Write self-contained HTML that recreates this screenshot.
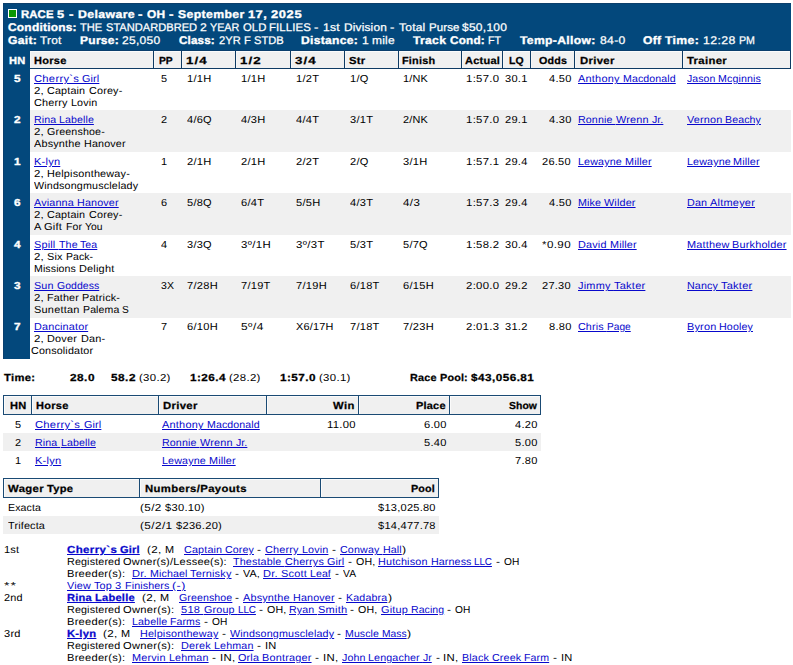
<!DOCTYPE html>
<html><head><meta charset="utf-8"><title>Race 5</title>
<style>
html,body{margin:0;padding:0;background:#fff;}
body{width:793px;height:665px;position:relative;overflow:hidden;font-family:"Liberation Sans",sans-serif;text-rendering:geometricPrecision;}
.b{position:absolute;}
.t{position:absolute;white-space:pre;line-height:12px;height:12px;transform-origin:0 50%;}
.c0{font-size:11.1px;color:#fff;font-weight:bold;-webkit-text-stroke:0.35px #fff;}
.c1{font-size:11.1px;color:#fff;-webkit-text-stroke:0.25px #fff;}
.c2{font-size:10.2px;color:#fff;font-weight:bold;-webkit-text-stroke:0.35px #fff;}
.c3{font-size:10.2px;color:#000;font-weight:bold;-webkit-text-stroke:0.25px #000;}
.c4{font-size:10.2px;color:#0808cc;text-decoration:underline;}
.c5{font-size:10.2px;color:#000;}
.c6{font-size:10.2px;color:#0808cc;font-weight:bold;text-decoration:underline;-webkit-text-stroke:0.25px #0808cc;}
</style></head><body>
<div class="b" style="left:3px;top:3px;width:788px;height:48px;background:#03487c"></div>
<div class="b" style="left:3px;top:51px;width:27px;height:308px;background:#03487c"></div>
<div class="b" style="left:30px;top:51px;width:761px;height:18px;background:#0e3a63"></div>
<div class="b" style="left:30px;top:50px;width:761px;height:1px;background:#0a3e6c"></div>
<div class="b" style="left:3px;top:3px;width:788px;height:1px;background:#0b3f6b"></div>
<div class="b" style="left:3px;top:3px;width:1px;height:356px;background:#0a4070"></div>
<div class="b" style="left:8px;top:9px;width:9px;height:9px;background:#fff"></div>
<div class="b" style="left:9px;top:10px;width:7px;height:7px;background:#0b9803"></div>
<div class="b" style="left:30px;top:51px;width:123px;height:17px;background:#fbfbfb"></div>
<div class="b" style="left:31px;top:52px;width:122px;height:16px;background:#f0f0f0"></div>
<div class="b" style="left:30px;top:52px;width:1px;height:16px;background:#f6f6f6"></div>
<div class="b" style="left:154px;top:51px;width:27px;height:17px;background:#fbfbfb"></div>
<div class="b" style="left:155px;top:52px;width:26px;height:16px;background:#f0f0f0"></div>
<div class="b" style="left:154px;top:52px;width:1px;height:16px;background:#f6f6f6"></div>
<div class="b" style="left:182px;top:51px;width:53px;height:17px;background:#fbfbfb"></div>
<div class="b" style="left:183px;top:52px;width:52px;height:16px;background:#f0f0f0"></div>
<div class="b" style="left:182px;top:52px;width:1px;height:16px;background:#f6f6f6"></div>
<div class="b" style="left:236px;top:51px;width:54px;height:17px;background:#fbfbfb"></div>
<div class="b" style="left:237px;top:52px;width:53px;height:16px;background:#f0f0f0"></div>
<div class="b" style="left:236px;top:52px;width:1px;height:16px;background:#f6f6f6"></div>
<div class="b" style="left:291px;top:51px;width:53px;height:17px;background:#fbfbfb"></div>
<div class="b" style="left:292px;top:52px;width:52px;height:16px;background:#f0f0f0"></div>
<div class="b" style="left:291px;top:52px;width:1px;height:16px;background:#f6f6f6"></div>
<div class="b" style="left:345px;top:51px;width:53px;height:17px;background:#fbfbfb"></div>
<div class="b" style="left:346px;top:52px;width:52px;height:16px;background:#f0f0f0"></div>
<div class="b" style="left:345px;top:52px;width:1px;height:16px;background:#f6f6f6"></div>
<div class="b" style="left:399px;top:51px;width:62px;height:17px;background:#fbfbfb"></div>
<div class="b" style="left:400px;top:52px;width:61px;height:16px;background:#f0f0f0"></div>
<div class="b" style="left:399px;top:52px;width:1px;height:16px;background:#f6f6f6"></div>
<div class="b" style="left:462px;top:51px;width:40px;height:17px;background:#fbfbfb"></div>
<div class="b" style="left:463px;top:52px;width:39px;height:16px;background:#f0f0f0"></div>
<div class="b" style="left:462px;top:52px;width:1px;height:16px;background:#f6f6f6"></div>
<div class="b" style="left:503px;top:51px;width:27px;height:17px;background:#fbfbfb"></div>
<div class="b" style="left:504px;top:52px;width:26px;height:16px;background:#f0f0f0"></div>
<div class="b" style="left:503px;top:52px;width:1px;height:16px;background:#f6f6f6"></div>
<div class="b" style="left:531px;top:51px;width:43px;height:17px;background:#fbfbfb"></div>
<div class="b" style="left:532px;top:52px;width:42px;height:16px;background:#f0f0f0"></div>
<div class="b" style="left:531px;top:52px;width:1px;height:16px;background:#f6f6f6"></div>
<div class="b" style="left:575px;top:51px;width:107px;height:17px;background:#fbfbfb"></div>
<div class="b" style="left:576px;top:52px;width:106px;height:16px;background:#f0f0f0"></div>
<div class="b" style="left:575px;top:52px;width:1px;height:16px;background:#f6f6f6"></div>
<div class="b" style="left:683px;top:51px;width:107px;height:17px;background:#fbfbfb"></div>
<div class="b" style="left:684px;top:52px;width:106px;height:16px;background:#f0f0f0"></div>
<div class="b" style="left:683px;top:52px;width:1px;height:16px;background:#f6f6f6"></div>
<div class="b" style="left:30px;top:69px;width:761px;height:41px;background:#fff"></div>
<div class="b" style="left:30px;top:110px;width:761px;height:42px;background:#f0f0f0"></div>
<div class="b" style="left:30px;top:152px;width:761px;height:41px;background:#fff"></div>
<div class="b" style="left:30px;top:193px;width:761px;height:42px;background:#f0f0f0"></div>
<div class="b" style="left:30px;top:235px;width:761px;height:41px;background:#fff"></div>
<div class="b" style="left:30px;top:276px;width:761px;height:42px;background:#f0f0f0"></div>
<div class="b" style="left:30px;top:318px;width:761px;height:41px;background:#fff"></div>
<div class="b" style="left:3px;top:395px;width:538px;height:20px;background:#1a4a74"></div>
<div class="b" style="left:4px;top:396px;width:27px;height:18px;background:#fbfbfb"></div>
<div class="b" style="left:5px;top:397px;width:26px;height:17px;background:#f0f0f0"></div>
<div class="b" style="left:32px;top:396px;width:126px;height:18px;background:#fbfbfb"></div>
<div class="b" style="left:33px;top:397px;width:125px;height:17px;background:#f0f0f0"></div>
<div class="b" style="left:159px;top:396px;width:107px;height:18px;background:#fbfbfb"></div>
<div class="b" style="left:160px;top:397px;width:106px;height:17px;background:#f0f0f0"></div>
<div class="b" style="left:267px;top:396px;width:91px;height:18px;background:#fbfbfb"></div>
<div class="b" style="left:268px;top:397px;width:90px;height:17px;background:#f0f0f0"></div>
<div class="b" style="left:359px;top:396px;width:90px;height:18px;background:#fbfbfb"></div>
<div class="b" style="left:360px;top:397px;width:89px;height:17px;background:#f0f0f0"></div>
<div class="b" style="left:450px;top:396px;width:90px;height:18px;background:#fbfbfb"></div>
<div class="b" style="left:451px;top:397px;width:89px;height:17px;background:#f0f0f0"></div>
<div class="b" style="left:3px;top:433px;width:538px;height:18px;background:#f0f0f0"></div>
<div class="b" style="left:3px;top:478px;width:436px;height:20px;background:#1a4a74"></div>
<div class="b" style="left:4px;top:479px;width:135px;height:18px;background:#fbfbfb"></div>
<div class="b" style="left:5px;top:480px;width:134px;height:17px;background:#f0f0f0"></div>
<div class="b" style="left:140px;top:479px;width:180px;height:18px;background:#fbfbfb"></div>
<div class="b" style="left:141px;top:480px;width:179px;height:17px;background:#f0f0f0"></div>
<div class="b" style="left:321px;top:479px;width:117px;height:18px;background:#fbfbfb"></div>
<div class="b" style="left:322px;top:480px;width:116px;height:17px;background:#f0f0f0"></div>
<div class="b" style="left:3px;top:516px;width:436px;height:18px;background:#f0f0f0"></div>
<span class="t c0" style="left:21.30px;top:9px;letter-spacing:0.095px;transform:scaleX(1.0254)">RACE </span>
<span class="t c0" style="left:57.18px;top:9px;letter-spacing:0.378px;transform:scaleX(1.1515)">5 </span>
<span class="t c0" style="left:68.61px;top:9px;letter-spacing:0.374px;transform:scaleX(1.2049)">- </span>
<span class="t c0" style="left:77.53px;top:9px;letter-spacing:0.337px;transform:scaleX(1.1089)">Delaware </span>
<span class="t c0" style="left:138.02px;top:9px;letter-spacing:0.374px;transform:scaleX(1.2049)">- </span>
<span class="t c0" style="left:146.93px;top:9px;letter-spacing:0.266px;transform:scaleX(1.0751)">OH </span>
<span class="t c0" style="left:168.95px;top:9px;letter-spacing:0.374px;transform:scaleX(1.2049)">- </span>
<span class="t c0" style="left:177.87px;top:9px;letter-spacing:0.336px;transform:scaleX(1.1032)">September </span>
<span class="t c0" style="left:247.89px;top:9px;letter-spacing:0.397px;transform:scaleX(1.1594)">17, </span>
<span class="t c0" style="left:270.94px;top:9px;letter-spacing:0.540px;transform:scaleX(1.1625)">2025</span>
<span class="t c0" style="left:8.00px;top:22px;letter-spacing:0.223px;transform:scaleX(1.0740)">Conditions:</span>
<span class="t c1" style="left:80.30px;top:22px;letter-spacing:0.005px;transform:scaleX(1.0014)">THE </span>
<span class="t c1" style="left:105.63px;top:22px;letter-spacing:0.002px;transform:scaleX(1.0004)">STANDARDBRED </span>
<span class="t c1" style="left:199.80px;top:22px;letter-spacing:0.242px;transform:scaleX(1.0969)">2 </span>
<span class="t c1" style="left:210.45px;top:22px;letter-spacing:-0.084px;transform:scaleX(0.9764)">YEAR </span>
<span class="t c1" style="left:242.54px;top:22px;letter-spacing:0.059px;transform:scaleX(1.0170)">OLD </span>
<span class="t c1" style="left:269.12px;top:22px;letter-spacing:0.091px;transform:scaleX(1.0312)">FILLIES </span>
<span class="t c1" style="left:314.37px;top:22px;letter-spacing:0.333px;transform:scaleX(1.1825)">- </span>
<span class="t c1" style="left:323.06px;top:22px;letter-spacing:0.229px;transform:scaleX(1.0950)">1st </span>
<span class="t c1" style="left:343.56px;top:22px;letter-spacing:0.171px;transform:scaleX(1.0681)">Division </span>
<span class="t c1" style="left:389.88px;top:22px;letter-spacing:0.333px;transform:scaleX(1.1825)">- </span>
<span class="t c1" style="left:398.56px;top:22px;letter-spacing:0.200px;transform:scaleX(1.0841)">Total </span>
<span class="t c1" style="left:428.51px;top:22px;letter-spacing:0.098px;transform:scaleX(1.0342)">Purse </span>
<span class="t c1" style="left:462.26px;top:22px;letter-spacing:0.247px;transform:scaleX(1.0799)">$50,100</span>
<span class="t c0" style="left:8.00px;top:35px;letter-spacing:0.256px;transform:scaleX(1.0939)">Gait:</span>
<span class="t c1" style="left:40.30px;top:35px;letter-spacing:0.199px;transform:scaleX(1.0766)">Trot</span>
<span class="t c0" style="left:80.00px;top:35px;letter-spacing:0.254px;transform:scaleX(1.0821)">Purse:</span>
<span class="t c1" style="left:122.00px;top:35px;letter-spacing:0.253px;transform:scaleX(1.0831)">25,050</span>
<span class="t c0" style="left:179.00px;top:35px;letter-spacing:0.150px;transform:scaleX(1.0501)">Class:</span>
<span class="t c1" style="left:219.00px;top:35px;letter-spacing:0.013px;transform:scaleX(1.0039)">2YR </span>
<span class="t c1" style="left:243.82px;top:35px;letter-spacing:0.027px;transform:scaleX(1.0100)">F </span>
<span class="t c1" style="left:253.83px;top:35px;letter-spacing:0.016px;transform:scaleX(1.0040)">STDB</span>
<span class="t c0" style="left:301.00px;top:35px;letter-spacing:0.264px;transform:scaleX(1.0885)">Distance:</span>
<span class="t c1" style="left:361.80px;top:35px;letter-spacing:0.246px;transform:scaleX(1.0985)">1 </span>
<span class="t c1" style="left:372.47px;top:35px;letter-spacing:0.220px;transform:scaleX(1.0805)">mile</span>
<span class="t c0" style="left:413.00px;top:35px;letter-spacing:0.273px;transform:scaleX(1.0947)">Track </span>
<span class="t c0" style="left:449.75px;top:35px;letter-spacing:0.194px;transform:scaleX(1.0562)">Cond:</span>
<span class="t c1" style="left:488.00px;top:35px;letter-spacing:-0.122px;transform:scaleX(0.9665)">FT</span>
<span class="t c0" style="left:520.00px;top:35px;letter-spacing:0.303px;transform:scaleX(1.0940)">Temp-Allow:</span>
<span class="t c1" style="left:600.00px;top:35px;letter-spacing:0.288px;transform:scaleX(1.0963)">84-0</span>
<span class="t c0" style="left:643.00px;top:35px;letter-spacing:0.242px;transform:scaleX(1.0943)">Off </span>
<span class="t c0" style="left:664.88px;top:35px;letter-spacing:0.323px;transform:scaleX(1.1019)">Time:</span>
<span class="t c1" style="left:702.80px;top:35px;letter-spacing:0.311px;transform:scaleX(1.1125)">12:28 </span>
<span class="t c1" style="left:738.98px;top:35px;letter-spacing:-0.179px;transform:scaleX(0.9600)">PM</span>
<span class="t c2" style="left:8.50px;top:56px;letter-spacing:0.342px;transform:scaleX(1.0862)">HN</span>
<span class="t c3" style="left:34.00px;top:56px;letter-spacing:0.249px;transform:scaleX(1.0801)">Horse</span>
<span class="t c3" style="left:158.70px;top:56px;letter-spacing:0.019px;transform:scaleX(1.0051)">PP</span>
<span class="t c3" style="left:186.00px;top:56px;letter-spacing:0.785px;transform:scaleX(1.3085)">1/4</span>
<span class="t c3" style="left:240.00px;top:56px;letter-spacing:0.785px;transform:scaleX(1.3085)">1/2</span>
<span class="t c3" style="left:295.00px;top:56px;letter-spacing:0.785px;transform:scaleX(1.3085)">3/4</span>
<span class="t c3" style="left:349.00px;top:56px;letter-spacing:0.269px;transform:scaleX(1.1059)">Str</span>
<span class="t c3" style="left:402.20px;top:56px;letter-spacing:0.185px;transform:scaleX(1.0688)">Finish</span>
<span class="t c3" style="left:464.50px;top:56px;letter-spacing:0.229px;transform:scaleX(1.0819)">Actual</span>
<span class="t c3" style="left:509.00px;top:56px;letter-spacing:0.099px;transform:scaleX(1.0259)">LQ</span>
<span class="t c3" style="left:539.00px;top:56px;letter-spacing:0.182px;transform:scaleX(1.0519)">Odds</span>
<span class="t c3" style="left:580.00px;top:56px;letter-spacing:0.292px;transform:scaleX(1.1103)">Driver</span>
<span class="t c3" style="left:687.00px;top:56px;letter-spacing:0.289px;transform:scaleX(1.1106)">Trainer</span>
<span class="t c2" style="left:13.60px;top:74px;letter-spacing:0.478px;transform:scaleX(1.1567)">5</span>
<span class="t c4" style="left:34.00px;top:74px;letter-spacing:0.250px;transform:scaleX(1.0999)">Cherry`s </span>
<span class="t c4" style="left:82.33px;top:74px;letter-spacing:0.130px;transform:scaleX(1.0608)">Girl</span>
<span class="t c5" style="left:34.00px;top:86px;letter-spacing:0.240px;transform:scaleX(1.1180)">2, </span>
<span class="t c5" style="left:47.38px;top:86px;letter-spacing:0.148px;transform:scaleX(1.0580)">Captain </span>
<span class="t c5" style="left:88.73px;top:86px;letter-spacing:0.165px;transform:scaleX(1.0600)">Corey-</span>
<span class="t c5" style="left:34.00px;top:98px;letter-spacing:0.174px;transform:scaleX(1.0675)">Cherry </span>
<span class="t c5" style="left:70.88px;top:98px;letter-spacing:0.140px;transform:scaleX(1.0535)">Lovin</span>
<span class="t c5" style="left:160.50px;top:74px;letter-spacing:0.219px;transform:scaleX(1.0716)">5</span>
<span class="t c5" style="left:186.80px;top:74px;letter-spacing:0.262px;transform:scaleX(1.0903)">1/1H</span>
<span class="t c5" style="left:240.80px;top:74px;letter-spacing:0.262px;transform:scaleX(1.0903)">1/1H</span>
<span class="t c5" style="left:295.50px;top:74px;letter-spacing:0.245px;transform:scaleX(1.0891)">1/2T</span>
<span class="t c5" style="left:349.50px;top:74px;letter-spacing:0.252px;transform:scaleX(1.0855)">1/Q</span>
<span class="t c5" style="left:402.80px;top:74px;letter-spacing:0.210px;transform:scaleX(1.0689)">1/NK</span>
<span class="t c5" style="left:466.00px;top:74px;letter-spacing:0.289px;transform:scaleX(1.1137)">1:57.0</span>
<span class="t c5" style="left:505.30px;top:74px;letter-spacing:0.233px;transform:scaleX(1.0874)">30.1</span>
<span class="t c5" style="left:548.51px;top:74px;letter-spacing:0.233px;transform:scaleX(1.0874)">4.50</span>
<span class="t c4" style="left:578.20px;top:74px;letter-spacing:0.202px;transform:scaleX(1.0745)">Anthony </span>
<span class="t c4" style="left:623.03px;top:74px;letter-spacing:0.112px;transform:scaleX(1.0376)">Macdonald</span>
<span class="t c4" style="left:686.50px;top:74px;letter-spacing:0.079px;transform:scaleX(1.0294)">Jason </span>
<span class="t c4" style="left:717.87px;top:74px;letter-spacing:0.113px;transform:scaleX(1.0418)">Mcginnis</span>
<span class="t c2" style="left:13.60px;top:115px;letter-spacing:0.478px;transform:scaleX(1.1567)">2</span>
<span class="t c4" style="left:34.00px;top:115px;letter-spacing:0.105px;transform:scaleX(1.0409)">Rina </span>
<span class="t c4" style="left:59.29px;top:115px;letter-spacing:0.100px;transform:scaleX(1.0395)">Labelle</span>
<span class="t c5" style="left:34.00px;top:127px;letter-spacing:0.240px;transform:scaleX(1.1180)">2, </span>
<span class="t c5" style="left:47.38px;top:127px;letter-spacing:0.139px;transform:scaleX(1.0481)">Greenshoe-</span>
<span class="t c5" style="left:34.00px;top:139px;letter-spacing:0.174px;transform:scaleX(1.0640)">Absynthe </span>
<span class="t c5" style="left:83.78px;top:139px;letter-spacing:0.157px;transform:scaleX(1.0529)">Hanover</span>
<span class="t c5" style="left:160.50px;top:115px;letter-spacing:0.219px;transform:scaleX(1.0716)">2</span>
<span class="t c5" style="left:186.80px;top:115px;letter-spacing:0.244px;transform:scaleX(1.0819)">4/6Q</span>
<span class="t c5" style="left:240.80px;top:115px;letter-spacing:0.262px;transform:scaleX(1.0903)">4/3H</span>
<span class="t c5" style="left:295.50px;top:115px;letter-spacing:0.245px;transform:scaleX(1.0891)">4/4T</span>
<span class="t c5" style="left:349.50px;top:115px;letter-spacing:0.245px;transform:scaleX(1.0891)">3/1T</span>
<span class="t c5" style="left:402.80px;top:115px;letter-spacing:0.210px;transform:scaleX(1.0689)">2/NK</span>
<span class="t c5" style="left:466.00px;top:115px;letter-spacing:0.289px;transform:scaleX(1.1137)">1:57.0</span>
<span class="t c5" style="left:505.30px;top:115px;letter-spacing:0.233px;transform:scaleX(1.0874)">29.1</span>
<span class="t c5" style="left:548.51px;top:115px;letter-spacing:0.233px;transform:scaleX(1.0874)">4.30</span>
<span class="t c4" style="left:578.20px;top:115px;letter-spacing:0.120px;transform:scaleX(1.0443)">Ronnie </span>
<span class="t c4" style="left:615.72px;top:115px;letter-spacing:0.191px;transform:scaleX(1.0653)">Wrenn </span>
<span class="t c4" style="left:651.66px;top:115px;letter-spacing:0.068px;transform:scaleX(1.0350)">Jr.</span>
<span class="t c4" style="left:686.50px;top:115px;letter-spacing:0.168px;transform:scaleX(1.0621)">Vernon </span>
<span class="t c4" style="left:724.98px;top:115px;letter-spacing:0.113px;transform:scaleX(1.0372)">Beachy</span>
<span class="t c2" style="left:13.60px;top:157px;letter-spacing:0.478px;transform:scaleX(1.1567)">1</span>
<span class="t c4" style="left:34.00px;top:157px;letter-spacing:0.208px;transform:scaleX(1.0833)">K-lyn</span>
<span class="t c5" style="left:34.00px;top:169px;letter-spacing:0.240px;transform:scaleX(1.1180)">2, </span>
<span class="t c5" style="left:47.38px;top:169px;letter-spacing:0.175px;transform:scaleX(1.0649)">Helpisontheway-</span>
<span class="t c5" style="left:34.00px;top:181px;letter-spacing:0.152px;transform:scaleX(1.0526)">Windsongmusclelady</span>
<span class="t c5" style="left:160.50px;top:157px;letter-spacing:0.219px;transform:scaleX(1.0716)">1</span>
<span class="t c5" style="left:186.80px;top:157px;letter-spacing:0.262px;transform:scaleX(1.0903)">2/1H</span>
<span class="t c5" style="left:240.80px;top:157px;letter-spacing:0.262px;transform:scaleX(1.0903)">2/1H</span>
<span class="t c5" style="left:295.50px;top:157px;letter-spacing:0.245px;transform:scaleX(1.0891)">2/2T</span>
<span class="t c5" style="left:349.50px;top:157px;letter-spacing:0.252px;transform:scaleX(1.0855)">2/Q</span>
<span class="t c5" style="left:402.80px;top:157px;letter-spacing:0.262px;transform:scaleX(1.0903)">3/1H</span>
<span class="t c5" style="left:466.00px;top:157px;letter-spacing:0.289px;transform:scaleX(1.1137)">1:57.1</span>
<span class="t c5" style="left:505.30px;top:157px;letter-spacing:0.233px;transform:scaleX(1.0874)">29.4</span>
<span class="t c5" style="left:542.21px;top:157px;letter-spacing:0.230px;transform:scaleX(1.0838)">26.50</span>
<span class="t c4" style="left:578.20px;top:157px;letter-spacing:0.147px;transform:scaleX(1.0499)">Lewayne </span>
<span class="t c4" style="left:625.18px;top:157px;letter-spacing:0.132px;transform:scaleX(1.0605)">Miller</span>
<span class="t c4" style="left:686.50px;top:157px;letter-spacing:0.147px;transform:scaleX(1.0499)">Lewayne </span>
<span class="t c4" style="left:733.48px;top:157px;letter-spacing:0.132px;transform:scaleX(1.0605)">Miller</span>
<span class="t c2" style="left:13.60px;top:198px;letter-spacing:0.478px;transform:scaleX(1.1567)">6</span>
<span class="t c4" style="left:34.00px;top:198px;letter-spacing:0.155px;transform:scaleX(1.0584)">Avianna </span>
<span class="t c4" style="left:77.02px;top:198px;letter-spacing:0.157px;transform:scaleX(1.0529)">Hanover</span>
<span class="t c5" style="left:34.00px;top:210px;letter-spacing:0.240px;transform:scaleX(1.1180)">2, </span>
<span class="t c5" style="left:47.38px;top:210px;letter-spacing:0.148px;transform:scaleX(1.0580)">Captain </span>
<span class="t c5" style="left:88.73px;top:210px;letter-spacing:0.165px;transform:scaleX(1.0600)">Corey-</span>
<span class="t c5" style="left:34.00px;top:222px;letter-spacing:0.206px;transform:scaleX(1.0844)">A </span>
<span class="t c5" style="left:44.26px;top:222px;letter-spacing:0.180px;transform:scaleX(1.0893)">Gift </span>
<span class="t c5" style="left:65.51px;top:222px;letter-spacing:0.082px;transform:scaleX(1.0338)">For </span>
<span class="t c5" style="left:84.58px;top:222px;letter-spacing:0.049px;transform:scaleX(1.0158)">You</span>
<span class="t c5" style="left:160.50px;top:198px;letter-spacing:0.219px;transform:scaleX(1.0716)">6</span>
<span class="t c5" style="left:186.80px;top:198px;letter-spacing:0.244px;transform:scaleX(1.0819)">5/8Q</span>
<span class="t c5" style="left:240.80px;top:198px;letter-spacing:0.245px;transform:scaleX(1.0891)">6/4T</span>
<span class="t c5" style="left:295.50px;top:198px;letter-spacing:0.262px;transform:scaleX(1.0903)">5/5H</span>
<span class="t c5" style="left:349.50px;top:198px;letter-spacing:0.245px;transform:scaleX(1.0891)">4/3T</span>
<span class="t c5" style="left:402.80px;top:198px;letter-spacing:0.340px;transform:scaleX(1.1337)">4/3</span>
<span class="t c5" style="left:466.00px;top:198px;letter-spacing:0.289px;transform:scaleX(1.1137)">1:57.3</span>
<span class="t c5" style="left:505.30px;top:198px;letter-spacing:0.233px;transform:scaleX(1.0874)">29.4</span>
<span class="t c5" style="left:548.51px;top:198px;letter-spacing:0.233px;transform:scaleX(1.0874)">4.50</span>
<span class="t c4" style="left:578.20px;top:198px;letter-spacing:0.127px;transform:scaleX(1.0484)">Mike </span>
<span class="t c4" style="left:604.36px;top:198px;letter-spacing:0.154px;transform:scaleX(1.0594)">Wilder</span>
<span class="t c4" style="left:686.50px;top:198px;letter-spacing:0.158px;transform:scaleX(1.0544)">Dan </span>
<span class="t c4" style="left:709.83px;top:198px;letter-spacing:0.206px;transform:scaleX(1.0760)">Altmeyer</span>
<span class="t c2" style="left:13.60px;top:240px;letter-spacing:0.478px;transform:scaleX(1.1567)">4</span>
<span class="t c4" style="left:34.00px;top:240px;letter-spacing:0.144px;transform:scaleX(1.0726)">Spill </span>
<span class="t c4" style="left:58.56px;top:240px;letter-spacing:0.119px;transform:scaleX(1.0433)">The </span>
<span class="t c4" style="left:80.31px;top:240px;letter-spacing:0.101px;transform:scaleX(1.0343)">Tea</span>
<span class="t c5" style="left:34.00px;top:252px;letter-spacing:0.240px;transform:scaleX(1.1180)">2, </span>
<span class="t c5" style="left:47.38px;top:252px;letter-spacing:0.161px;transform:scaleX(1.0706)">Six </span>
<span class="t c5" style="left:66.21px;top:252px;letter-spacing:0.080px;transform:scaleX(1.0284)">Pack-</span>
<span class="t c5" style="left:34.00px;top:264px;letter-spacing:0.099px;transform:scaleX(1.0388)">Missions </span>
<span class="t c5" style="left:79.01px;top:264px;letter-spacing:0.179px;transform:scaleX(1.0733)">Delight</span>
<span class="t c5" style="left:160.50px;top:240px;letter-spacing:0.219px;transform:scaleX(1.0716)">4</span>
<span class="t c5" style="left:186.80px;top:240px;letter-spacing:0.244px;transform:scaleX(1.0819)">3/3Q</span>
<span class="t c5" style="left:240.80px;top:240px;letter-spacing:0.327px;transform:scaleX(1.1204)">3º/1H</span>
<span class="t c5" style="left:295.50px;top:240px;letter-spacing:0.314px;transform:scaleX(1.1208)">3º/3T</span>
<span class="t c5" style="left:349.50px;top:240px;letter-spacing:0.245px;transform:scaleX(1.0891)">5/3T</span>
<span class="t c5" style="left:402.80px;top:240px;letter-spacing:0.244px;transform:scaleX(1.0819)">5/7Q</span>
<span class="t c5" style="left:466.00px;top:240px;letter-spacing:0.289px;transform:scaleX(1.1137)">1:58.2</span>
<span class="t c5" style="left:505.30px;top:240px;letter-spacing:0.233px;transform:scaleX(1.0874)">30.4</span>
<span class="t c5" style="left:542.21px;top:240px;letter-spacing:0.349px;transform:scaleX(1.1364)">*0.90</span>
<span class="t c4" style="left:578.20px;top:240px;letter-spacing:0.170px;transform:scaleX(1.0657)">David </span>
<span class="t c4" style="left:610.01px;top:240px;letter-spacing:0.132px;transform:scaleX(1.0605)">Miller</span>
<span class="t c4" style="left:686.50px;top:240px;letter-spacing:0.197px;transform:scaleX(1.0708)">Matthew </span>
<span class="t c4" style="left:732.35px;top:240px;letter-spacing:0.180px;transform:scaleX(1.0679)">Burkholder</span>
<span class="t c2" style="left:13.60px;top:281px;letter-spacing:0.478px;transform:scaleX(1.1567)">3</span>
<span class="t c4" style="left:34.00px;top:281px;letter-spacing:0.159px;transform:scaleX(1.0564)">Sun </span>
<span class="t c4" style="left:56.79px;top:281px;letter-spacing:0.073px;transform:scaleX(1.0231)">Goddess</span>
<span class="t c5" style="left:34.00px;top:293px;letter-spacing:0.240px;transform:scaleX(1.1180)">2, </span>
<span class="t c5" style="left:47.38px;top:293px;letter-spacing:0.140px;transform:scaleX(1.0563)">Father </span>
<span class="t c5" style="left:82.46px;top:293px;letter-spacing:0.153px;transform:scaleX(1.0658)">Patrick-</span>
<span class="t c5" style="left:34.00px;top:305px;letter-spacing:0.198px;transform:scaleX(1.0757)">Sunettan </span>
<span class="t c5" style="left:82.71px;top:305px;letter-spacing:0.099px;transform:scaleX(1.0344)">Palema </span>
<span class="t c5" style="left:122.06px;top:305px;letter-spacing:-0.009px;transform:scaleX(0.9976)">S</span>
<span class="t c5" style="left:160.50px;top:281px;letter-spacing:0.107px;transform:scaleX(1.0318)">3X</span>
<span class="t c5" style="left:186.80px;top:281px;letter-spacing:0.254px;transform:scaleX(1.0868)">7/28H</span>
<span class="t c5" style="left:240.80px;top:281px;letter-spacing:0.239px;transform:scaleX(1.0853)">7/19T</span>
<span class="t c5" style="left:295.50px;top:281px;letter-spacing:0.254px;transform:scaleX(1.0868)">7/19H</span>
<span class="t c5" style="left:349.50px;top:281px;letter-spacing:0.239px;transform:scaleX(1.0853)">6/18T</span>
<span class="t c5" style="left:402.80px;top:281px;letter-spacing:0.254px;transform:scaleX(1.0868)">6/15H</span>
<span class="t c5" style="left:466.00px;top:281px;letter-spacing:0.289px;transform:scaleX(1.1137)">2:00.0</span>
<span class="t c5" style="left:505.30px;top:281px;letter-spacing:0.233px;transform:scaleX(1.0874)">29.2</span>
<span class="t c5" style="left:542.21px;top:281px;letter-spacing:0.230px;transform:scaleX(1.0838)">27.30</span>
<span class="t c4" style="left:578.20px;top:281px;letter-spacing:0.208px;transform:scaleX(1.0718)">Jimmy </span>
<span class="t c4" style="left:614.03px;top:281px;letter-spacing:0.207px;transform:scaleX(1.0830)">Takter</span>
<span class="t c4" style="left:686.50px;top:281px;letter-spacing:0.140px;transform:scaleX(1.0493)">Nancy </span>
<span class="t c4" style="left:720.63px;top:281px;letter-spacing:0.207px;transform:scaleX(1.0830)">Takter</span>
<span class="t c2" style="left:13.60px;top:322px;letter-spacing:0.478px;transform:scaleX(1.1567)">7</span>
<span class="t c4" style="left:34.00px;top:322px;letter-spacing:0.168px;transform:scaleX(1.0632)">Dancinator</span>
<span class="t c5" style="left:34.00px;top:334px;letter-spacing:0.240px;transform:scaleX(1.1180)">2, </span>
<span class="t c5" style="left:47.38px;top:334px;letter-spacing:0.181px;transform:scaleX(1.0671)">Dover </span>
<span class="t c5" style="left:80.50px;top:334px;letter-spacing:0.197px;transform:scaleX(1.0662)">Dan-</span>
<span class="t c5" style="left:31.00px;top:346px;letter-spacing:0.141px;transform:scaleX(1.0549)">Consolidator</span>
<span class="t c5" style="left:160.50px;top:322px;letter-spacing:0.219px;transform:scaleX(1.0716)">7</span>
<span class="t c5" style="left:186.80px;top:322px;letter-spacing:0.254px;transform:scaleX(1.0868)">6/10H</span>
<span class="t c5" style="left:240.80px;top:322px;letter-spacing:0.403px;transform:scaleX(1.1672)">5º/4</span>
<span class="t c5" style="left:295.50px;top:322px;letter-spacing:0.211px;transform:scaleX(1.0692)">X6/17H</span>
<span class="t c5" style="left:349.50px;top:322px;letter-spacing:0.239px;transform:scaleX(1.0853)">7/18T</span>
<span class="t c5" style="left:402.80px;top:322px;letter-spacing:0.254px;transform:scaleX(1.0868)">7/23H</span>
<span class="t c5" style="left:466.00px;top:322px;letter-spacing:0.289px;transform:scaleX(1.1137)">2:01.3</span>
<span class="t c5" style="left:505.30px;top:322px;letter-spacing:0.233px;transform:scaleX(1.0874)">31.2</span>
<span class="t c5" style="left:548.51px;top:322px;letter-spacing:0.233px;transform:scaleX(1.0874)">8.80</span>
<span class="t c4" style="left:578.20px;top:322px;letter-spacing:0.125px;transform:scaleX(1.0525)">Chris </span>
<span class="t c4" style="left:606.96px;top:322px;letter-spacing:-0.005px;transform:scaleX(0.9985)">Page</span>
<span class="t c4" style="left:686.50px;top:322px;letter-spacing:0.186px;transform:scaleX(1.0703)">Byron </span>
<span class="t c4" style="left:719.14px;top:322px;letter-spacing:0.129px;transform:scaleX(1.0453)">Hooley</span>
<span class="t c3" style="left:4.00px;top:373px;letter-spacing:0.292px;transform:scaleX(1.1003)">Time:</span>
<span class="t c3" style="left:69.80px;top:373px;letter-spacing:0.425px;transform:scaleX(1.1594)">28.0</span>
<span class="t c3" style="left:110.80px;top:373px;letter-spacing:0.425px;transform:scaleX(1.1594)">58.2</span>
<span class="t c5" style="left:138.60px;top:373px;letter-spacing:0.283px;transform:scaleX(1.1186)">(30.2)</span>
<span class="t c3" style="left:189.80px;top:373px;letter-spacing:0.398px;transform:scaleX(1.1534)">1:26.4</span>
<span class="t c5" style="left:229.00px;top:373px;letter-spacing:0.283px;transform:scaleX(1.1186)">(28.2)</span>
<span class="t c3" style="left:279.80px;top:373px;letter-spacing:0.398px;transform:scaleX(1.1534)">1:57.0</span>
<span class="t c5" style="left:318.50px;top:373px;letter-spacing:0.283px;transform:scaleX(1.1186)">(30.1)</span>
<span class="t c3" style="left:410.00px;top:373px;letter-spacing:0.182px;transform:scaleX(1.0621)">Race </span>
<span class="t c3" style="left:439.78px;top:373px;letter-spacing:0.158px;transform:scaleX(1.0620)">Pool: </span>
<span class="t c3" style="left:470.78px;top:373px;letter-spacing:0.410px;transform:scaleX(1.1494)">$43,056.81</span>
<span class="t c3" style="left:10.00px;top:401px;letter-spacing:0.342px;transform:scaleX(1.0862)">HN</span>
<span class="t c3" style="left:36.00px;top:401px;letter-spacing:0.249px;transform:scaleX(1.0801)">Horse</span>
<span class="t c3" style="left:162.50px;top:401px;letter-spacing:0.292px;transform:scaleX(1.1103)">Driver</span>
<span class="t c3" style="left:333.40px;top:401px;letter-spacing:0.351px;transform:scaleX(1.1052)">Win</span>
<span class="t c3" style="left:416.35px;top:401px;letter-spacing:0.212px;transform:scaleX(1.0739)">Place</span>
<span class="t c3" style="left:509.30px;top:401px;letter-spacing:0.072px;transform:scaleX(1.0198)">Show</span>
<span class="t c5" style="left:15.00px;top:420px;letter-spacing:0.219px;transform:scaleX(1.0716)">5</span>
<span class="t c4" style="left:35.30px;top:420px;letter-spacing:0.250px;transform:scaleX(1.0999)">Cherry`s </span>
<span class="t c4" style="left:83.63px;top:420px;letter-spacing:0.130px;transform:scaleX(1.0608)">Girl</span>
<span class="t c4" style="left:162.30px;top:420px;letter-spacing:0.202px;transform:scaleX(1.0745)">Anthony </span>
<span class="t c4" style="left:207.13px;top:420px;letter-spacing:0.112px;transform:scaleX(1.0376)">Macdonald</span>
<span class="t c5" style="left:326.51px;top:420px;letter-spacing:0.283px;transform:scaleX(1.1061)">11.00</span>
<span class="t c5" style="left:423.81px;top:420px;letter-spacing:0.233px;transform:scaleX(1.0874)">6.00</span>
<span class="t c5" style="left:514.81px;top:420px;letter-spacing:0.233px;transform:scaleX(1.0874)">4.20</span>
<span class="t c5" style="left:15.00px;top:438px;letter-spacing:0.219px;transform:scaleX(1.0716)">2</span>
<span class="t c4" style="left:35.30px;top:438px;letter-spacing:0.105px;transform:scaleX(1.0409)">Rina </span>
<span class="t c4" style="left:60.59px;top:438px;letter-spacing:0.100px;transform:scaleX(1.0395)">Labelle</span>
<span class="t c4" style="left:162.30px;top:438px;letter-spacing:0.120px;transform:scaleX(1.0443)">Ronnie </span>
<span class="t c4" style="left:199.82px;top:438px;letter-spacing:0.191px;transform:scaleX(1.0653)">Wrenn </span>
<span class="t c4" style="left:235.76px;top:438px;letter-spacing:0.068px;transform:scaleX(1.0350)">Jr.</span>
<span class="t c5" style="left:423.81px;top:438px;letter-spacing:0.233px;transform:scaleX(1.0874)">5.40</span>
<span class="t c5" style="left:514.81px;top:438px;letter-spacing:0.233px;transform:scaleX(1.0874)">5.00</span>
<span class="t c5" style="left:15.00px;top:456px;letter-spacing:0.219px;transform:scaleX(1.0716)">1</span>
<span class="t c4" style="left:35.30px;top:456px;letter-spacing:0.208px;transform:scaleX(1.0833)">K-lyn</span>
<span class="t c4" style="left:162.30px;top:456px;letter-spacing:0.147px;transform:scaleX(1.0499)">Lewayne </span>
<span class="t c4" style="left:209.28px;top:456px;letter-spacing:0.132px;transform:scaleX(1.0605)">Miller</span>
<span class="t c5" style="left:514.81px;top:456px;letter-spacing:0.233px;transform:scaleX(1.0874)">7.80</span>
<span class="t c3" style="left:8.00px;top:484px;letter-spacing:0.335px;transform:scaleX(1.1110)">Wager </span>
<span class="t c3" style="left:47.33px;top:484px;letter-spacing:0.281px;transform:scaleX(1.0907)">Type</span>
<span class="t c3" style="left:144.50px;top:484px;letter-spacing:0.343px;transform:scaleX(1.1102)">Numbers/Payouts</span>
<span class="t c3" style="left:411.00px;top:484px;letter-spacing:0.168px;transform:scaleX(1.0565)">Pool</span>
<span class="t c5" style="left:8.00px;top:503px;letter-spacing:0.112px;transform:scaleX(1.0400)">Exacta</span>
<span class="t c5" style="left:140.20px;top:503px;letter-spacing:0.327px;transform:scaleX(1.1491)">(5/2 </span>
<span class="t c5" style="left:165.27px;top:503px;letter-spacing:0.251px;transform:scaleX(1.0944)">$30.10)</span>
<span class="t c5" style="left:378.42px;top:503px;letter-spacing:0.230px;transform:scaleX(1.0838)">$13,025.80</span>
<span class="t c5" style="left:8.00px;top:521px;letter-spacing:0.148px;transform:scaleX(1.0656)">Trifecta</span>
<span class="t c5" style="left:140.20px;top:521px;letter-spacing:0.348px;transform:scaleX(1.1568)">(5/2/1 </span>
<span class="t c5" style="left:176.06px;top:521px;letter-spacing:0.248px;transform:scaleX(1.0914)">$236.20)</span>
<span class="t c5" style="left:378.42px;top:521px;letter-spacing:0.230px;transform:scaleX(1.0838)">$14,477.78</span>
<span class="t c5" style="left:4.00px;top:545px;letter-spacing:0.205px;transform:scaleX(1.0842)">1st</span>
<span class="t c6" style="left:67.00px;top:545px;letter-spacing:0.336px;transform:scaleX(1.1255)">Cherry`s </span>
<span class="t c6" style="left:120.37px;top:545px;letter-spacing:0.189px;transform:scaleX(1.0799)">Girl</span>
<span class="t c5" style="left:147.06px;top:545px;letter-spacing:0.275px;transform:scaleX(1.1387)">(2, </span>
<span class="t c5" style="left:164.94px;top:545px;letter-spacing:0.159px;transform:scaleX(1.0695)">M   </span>
<span class="t c4" style="left:183.74px;top:545px;letter-spacing:0.148px;transform:scaleX(1.0580)">Captain </span>
<span class="t c4" style="left:225.08px;top:545px;letter-spacing:0.120px;transform:scaleX(1.0411)">Corey</span>
<span class="t c5" style="left:257.48px;top:545px;letter-spacing:0.305px;transform:scaleX(1.1819)">- </span>
<span class="t c4" style="left:265.46px;top:545px;letter-spacing:0.174px;transform:scaleX(1.0675)">Cherry </span>
<span class="t c4" style="left:302.33px;top:545px;letter-spacing:0.140px;transform:scaleX(1.0535)">Lovin</span>
<span class="t c5" style="left:332.18px;top:545px;letter-spacing:0.305px;transform:scaleX(1.1819)">- </span>
<span class="t c4" style="left:340.16px;top:545px;letter-spacing:0.147px;transform:scaleX(1.0482)">Conway </span>
<span class="t c4" style="left:382.74px;top:545px;letter-spacing:0.109px;transform:scaleX(1.0462)">Hall</span>
<span class="t c5" style="left:401.55px;top:545px;letter-spacing:0.381px;transform:scaleX(1.2077)">)</span>
<span class="t c5" style="left:67.00px;top:557px;letter-spacing:0.137px;transform:scaleX(1.0535)">Registered </span>
<span class="t c5" style="left:123.40px;top:557px;letter-spacing:0.202px;transform:scaleX(1.0805)">Owner(s)/Lessee(s):  </span>
<span class="t c4" style="left:233.47px;top:557px;letter-spacing:0.139px;transform:scaleX(1.0541)">Thestable </span>
<span class="t c4" style="left:285.01px;top:557px;letter-spacing:0.155px;transform:scaleX(1.0597)">Cherrys </span>
<span class="t c4" style="left:327.04px;top:557px;letter-spacing:0.130px;transform:scaleX(1.0608)">Girl</span>
<span class="t c5" style="left:347.85px;top:557px;letter-spacing:0.305px;transform:scaleX(1.1819)">- </span>
<span class="t c5" style="left:355.83px;top:557px;letter-spacing:0.119px;transform:scaleX(1.0422)">OH, </span>
<span class="t c4" style="left:378.15px;top:557px;letter-spacing:0.158px;transform:scaleX(1.0610)">Hutchison </span>
<span class="t c4" style="left:430.81px;top:557px;letter-spacing:0.123px;transform:scaleX(1.0449)">Harness </span>
<span class="t c4" style="left:474.38px;top:557px;letter-spacing:-0.089px;transform:scaleX(0.9734)">LLC</span>
<span class="t c5" style="left:495.81px;top:557px;letter-spacing:0.305px;transform:scaleX(1.1819)">- </span>
<span class="t c5" style="left:503.79px;top:557px;letter-spacing:-0.010px;transform:scaleX(0.9977)">OH</span>
<span class="t c5" style="left:67.00px;top:569px;letter-spacing:0.218px;transform:scaleX(1.0930)">Breeder(s):  </span>
<span class="t c4" style="left:131.73px;top:569px;letter-spacing:0.184px;transform:scaleX(1.0860)">Dr. </span>
<span class="t c4" style="left:149.68px;top:569px;letter-spacing:0.113px;transform:scaleX(1.0444)">Michael </span>
<span class="t c4" style="left:190.22px;top:569px;letter-spacing:0.178px;transform:scaleX(1.0707)">Ternisky</span>
<span class="t c5" style="left:235.14px;top:569px;letter-spacing:0.305px;transform:scaleX(1.1819)">- </span>
<span class="t c5" style="left:243.12px;top:569px;letter-spacing:0.143px;transform:scaleX(1.0575)">VA, </span>
<span class="t c4" style="left:263.26px;top:569px;letter-spacing:0.184px;transform:scaleX(1.0860)">Dr. </span>
<span class="t c4" style="left:281.22px;top:569px;letter-spacing:0.185px;transform:scaleX(1.0793)">Scott </span>
<span class="t c4" style="left:310.44px;top:569px;letter-spacing:0.089px;transform:scaleX(1.0335)">Leaf</span>
<span class="t c5" style="left:334.78px;top:569px;letter-spacing:0.305px;transform:scaleX(1.1819)">- </span>
<span class="t c5" style="left:342.75px;top:569px;letter-spacing:0.036px;transform:scaleX(1.0103)">VA</span>
<span class="t c5" style="left:4.00px;top:581px;letter-spacing:0.815px;transform:scaleX(1.3812)">**</span>
<span class="t c4" style="left:67.00px;top:581px;letter-spacing:0.156px;transform:scaleX(1.0587)">View </span>
<span class="t c4" style="left:93.97px;top:581px;letter-spacing:0.162px;transform:scaleX(1.0625)">Top </span>
<span class="t c4" style="left:115.08px;top:581px;letter-spacing:0.224px;transform:scaleX(1.0980)">3 </span>
<span class="t c4" style="left:124.87px;top:581px;letter-spacing:0.119px;transform:scaleX(1.0501)">Finishers </span>
<span class="t c4" style="left:172.44px;top:581px;letter-spacing:0.385px;transform:scaleX(1.2103)">(-)</span>
<span class="t c5" style="left:4.00px;top:593px;letter-spacing:0.202px;transform:scaleX(1.0662)">2nd</span>
<span class="t c6" style="left:67.00px;top:593px;letter-spacing:0.228px;transform:scaleX(1.0849)">Rina </span>
<span class="t c6" style="left:95.18px;top:593px;letter-spacing:0.232px;transform:scaleX(1.0861)">Labelle</span>
<span class="t c5" style="left:141.90px;top:593px;letter-spacing:0.275px;transform:scaleX(1.1387)">(2, </span>
<span class="t c5" style="left:159.78px;top:593px;letter-spacing:0.159px;transform:scaleX(1.0695)">M   </span>
<span class="t c4" style="left:178.58px;top:593px;letter-spacing:0.113px;transform:scaleX(1.0373)">Greenshoe</span>
<span class="t c5" style="left:235.37px;top:593px;letter-spacing:0.305px;transform:scaleX(1.1819)">- </span>
<span class="t c4" style="left:243.35px;top:593px;letter-spacing:0.174px;transform:scaleX(1.0640)">Absynthe </span>
<span class="t c4" style="left:293.13px;top:593px;letter-spacing:0.157px;transform:scaleX(1.0529)">Hanover</span>
<span class="t c5" style="left:338.26px;top:593px;letter-spacing:0.305px;transform:scaleX(1.1819)">- </span>
<span class="t c4" style="left:346.24px;top:593px;letter-spacing:0.137px;transform:scaleX(1.0463)">Kadabra</span>
<span class="t c5" style="left:387.51px;top:593px;letter-spacing:0.381px;transform:scaleX(1.2077)">)</span>
<span class="t c5" style="left:67.00px;top:605px;letter-spacing:0.137px;transform:scaleX(1.0535)">Registered </span>
<span class="t c5" style="left:123.40px;top:605px;letter-spacing:0.239px;transform:scaleX(1.0968)">Owner(s):  </span>
<span class="t c4" style="left:181.30px;top:605px;letter-spacing:0.223px;transform:scaleX(1.0835)">518 </span>
<span class="t c4" style="left:203.67px;top:605px;letter-spacing:0.156px;transform:scaleX(1.0557)">Group </span>
<span class="t c4" style="left:237.50px;top:605px;letter-spacing:-0.089px;transform:scaleX(0.9734)">LLC</span>
<span class="t c5" style="left:258.92px;top:605px;letter-spacing:0.305px;transform:scaleX(1.1819)">- </span>
<span class="t c5" style="left:266.90px;top:605px;letter-spacing:0.119px;transform:scaleX(1.0422)">OH, </span>
<span class="t c4" style="left:289.22px;top:605px;letter-spacing:0.117px;transform:scaleX(1.0408)">Ryan </span>
<span class="t c4" style="left:317.51px;top:605px;letter-spacing:0.227px;transform:scaleX(1.0808)">Smith</span>
<span class="t c5" style="left:350.28px;top:605px;letter-spacing:0.305px;transform:scaleX(1.1819)">- </span>
<span class="t c5" style="left:358.26px;top:605px;letter-spacing:0.119px;transform:scaleX(1.0422)">OH, </span>
<span class="t c4" style="left:380.57px;top:605px;letter-spacing:0.176px;transform:scaleX(1.0721)">Gitup </span>
<span class="t c4" style="left:410.78px;top:605px;letter-spacing:0.083px;transform:scaleX(1.0290)">Racing</span>
<span class="t c5" style="left:447.40px;top:605px;letter-spacing:0.305px;transform:scaleX(1.1819)">- </span>
<span class="t c5" style="left:455.38px;top:605px;letter-spacing:-0.010px;transform:scaleX(0.9977)">OH</span>
<span class="t c5" style="left:67.00px;top:617px;letter-spacing:0.218px;transform:scaleX(1.0930)">Breeder(s):  </span>
<span class="t c4" style="left:131.73px;top:617px;letter-spacing:0.116px;transform:scaleX(1.0484)">Labelle </span>
<span class="t c4" style="left:170.07px;top:617px;letter-spacing:0.101px;transform:scaleX(1.0324)">Farms</span>
<span class="t c5" style="left:203.87px;top:617px;letter-spacing:0.305px;transform:scaleX(1.1819)">- </span>
<span class="t c5" style="left:211.85px;top:617px;letter-spacing:-0.010px;transform:scaleX(0.9977)">OH</span>
<span class="t c5" style="left:4.00px;top:629px;letter-spacing:0.228px;transform:scaleX(1.0863)">3rd</span>
<span class="t c6" style="left:67.00px;top:629px;letter-spacing:0.266px;transform:scaleX(1.0969)">K-lyn</span>
<span class="t c5" style="left:103.23px;top:629px;letter-spacing:0.275px;transform:scaleX(1.1387)">(2, </span>
<span class="t c5" style="left:121.11px;top:629px;letter-spacing:0.159px;transform:scaleX(1.0695)">M   </span>
<span class="t c4" style="left:139.91px;top:629px;letter-spacing:0.160px;transform:scaleX(1.0580)">Helpisontheway</span>
<span class="t c5" style="left:221.74px;top:629px;letter-spacing:0.305px;transform:scaleX(1.1819)">- </span>
<span class="t c4" style="left:229.72px;top:629px;letter-spacing:0.152px;transform:scaleX(1.0526)">Windsongmusclelady</span>
<span class="t c5" style="left:337.26px;top:629px;letter-spacing:0.305px;transform:scaleX(1.1819)">- </span>
<span class="t c4" style="left:345.24px;top:629px;letter-spacing:0.096px;transform:scaleX(1.0355)">Muscle </span>
<span class="t c4" style="left:382.27px;top:629px;letter-spacing:0.023px;transform:scaleX(1.0071)">Mass</span>
<span class="t c5" style="left:406.88px;top:629px;letter-spacing:0.381px;transform:scaleX(1.2077)">)</span>
<span class="t c5" style="left:67.00px;top:641px;letter-spacing:0.137px;transform:scaleX(1.0535)">Registered </span>
<span class="t c5" style="left:123.40px;top:641px;letter-spacing:0.239px;transform:scaleX(1.0968)">Owner(s):  </span>
<span class="t c4" style="left:181.30px;top:641px;letter-spacing:0.174px;transform:scaleX(1.0648)">Derek </span>
<span class="t c4" style="left:214.30px;top:641px;letter-spacing:0.158px;transform:scaleX(1.0477)">Lehman</span>
<span class="t c5" style="left:257.32px;top:641px;letter-spacing:0.305px;transform:scaleX(1.1819)">- </span>
<span class="t c5" style="left:265.30px;top:641px;letter-spacing:0.242px;transform:scaleX(1.0884)">IN</span>
<span class="t c5" style="left:67.00px;top:653px;letter-spacing:0.218px;transform:scaleX(1.0930)">Breeder(s):  </span>
<span class="t c4" style="left:131.73px;top:653px;letter-spacing:0.170px;transform:scaleX(1.0660)">Mervin </span>
<span class="t c4" style="left:168.52px;top:653px;letter-spacing:0.158px;transform:scaleX(1.0477)">Lehman</span>
<span class="t c5" style="left:211.54px;top:653px;letter-spacing:0.305px;transform:scaleX(1.1819)">- </span>
<span class="t c5" style="left:219.52px;top:653px;letter-spacing:0.245px;transform:scaleX(1.1148)">IN, </span>
<span class="t c4" style="left:238.18px;top:653px;letter-spacing:0.146px;transform:scaleX(1.0615)">Orla </span>
<span class="t c4" style="left:262.35px;top:653px;letter-spacing:0.182px;transform:scaleX(1.0681)">Bontrager</span>
<span class="t c5" style="left:315.27px;top:653px;letter-spacing:0.305px;transform:scaleX(1.1819)">- </span>
<span class="t c5" style="left:323.25px;top:653px;letter-spacing:0.245px;transform:scaleX(1.1148)">IN, </span>
<span class="t c4" style="left:341.91px;top:653px;letter-spacing:0.113px;transform:scaleX(1.0420)">John </span>
<span class="t c4" style="left:368.45px;top:653px;letter-spacing:0.135px;transform:scaleX(1.0491)">Lengacher </span>
<span class="t c4" style="left:423.28px;top:653px;letter-spacing:0.041px;transform:scaleX(1.0177)">Jr</span>
<span class="t c5" style="left:435.50px;top:653px;letter-spacing:0.305px;transform:scaleX(1.1819)">- </span>
<span class="t c5" style="left:443.48px;top:653px;letter-spacing:0.245px;transform:scaleX(1.1148)">IN, </span>
<span class="t c4" style="left:462.14px;top:653px;letter-spacing:0.129px;transform:scaleX(1.0517)">Black </span>
<span class="t c4" style="left:492.10px;top:653px;letter-spacing:0.132px;transform:scaleX(1.0491)">Creek </span>
<span class="t c4" style="left:524.38px;top:653px;letter-spacing:0.120px;transform:scaleX(1.0376)">Farm</span>
<span class="t c5" style="left:553.02px;top:653px;letter-spacing:0.305px;transform:scaleX(1.1819)">- </span>
<span class="t c5" style="left:561.00px;top:653px;letter-spacing:0.242px;transform:scaleX(1.0884)">IN</span>
</body></html>
